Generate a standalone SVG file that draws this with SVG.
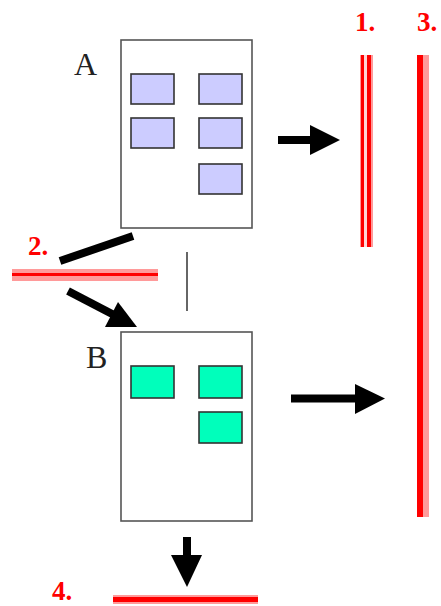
<svg xmlns="http://www.w3.org/2000/svg" width="441" height="606" viewBox="0 0 441 606">
<style>
.frame{fill:#fff;stroke:#555;stroke-width:1.6}
.pa{fill:#ccccff;stroke:#333;stroke-width:1.6}
.pb{fill:#00ffbb;stroke:#333;stroke-width:1.6}
.lbl{font-family:"Liberation Serif",serif;font-size:32px;fill:#222}
.num{font-family:"Liberation Serif",serif;font-size:27px;font-weight:bold;fill:#ff0000}
.halo{fill:#ff9a9a}
.red{fill:#ff0000}
.shaft{stroke:#000;stroke-width:8;fill:none}
.head{fill:#000}
</style>
<rect width="441" height="606" fill="#fff"/>
<g id="nodeA">
<rect class="frame" x="121" y="40" width="131" height="188"/>
<rect class="pa" x="131" y="74" width="43" height="30"/>
<rect class="pa" x="199" y="74" width="43" height="30"/>
<rect class="pa" x="131" y="118" width="43" height="30"/>
<rect class="pa" x="199" y="118" width="43" height="30"/>
<rect class="pa" x="199" y="164" width="43" height="30"/>
<text class="lbl" x="74" y="75">A</text>
</g>
<g id="nodeB">
<rect class="frame" x="121" y="332" width="131" height="189"/>
<rect class="pb" x="131" y="366" width="43" height="32"/>
<rect class="pb" x="199" y="366" width="43" height="32"/>
<rect class="pb" x="199" y="412" width="43" height="31"/>
<text class="lbl" x="86" y="368">B</text>
</g>
<g id="target1">
<rect class="halo" x="360" y="55" width="13" height="192"/>
<rect class="red" x="361" y="55" width="3" height="192"/>
<rect fill="#fff" opacity="0.6" x="364" y="55" width="3" height="192"/>
<rect class="red" x="367" y="55" width="4" height="192"/>
<text class="num" x="355" y="31">1.</text>
</g>
<g id="target2">
<rect class="halo" x="12" y="269" width="146" height="12"/>
<rect class="red" x="12" y="273" width="146" height="3"/>
<text class="num" x="28" y="255">2.</text>
</g>
<g id="target3">
<rect class="halo" x="417" y="55" width="12" height="462"/>
<rect class="red" x="417" y="55" width="6" height="462"/>
<text class="num" x="417" y="31">3.</text>
</g>
<g id="target4">
<rect class="halo" x="113" y="595" width="145" height="9"/>
<rect class="red" x="113" y="597" width="145" height="5"/>
<text class="num" x="52" y="600" font-size="26">4.</text>
</g>
<g id="connectors">
<line class="shaft" x1="278" y1="140" x2="312" y2="140"/>
<polygon class="head" points="310,125 340,140 310,155"/>
<line class="shaft" x1="291" y1="398.5" x2="357" y2="398.5"/>
<polygon class="head" points="355,384 385,398.5 355,414"/>
<line class="shaft" x1="187" y1="537" x2="187" y2="557"/>
<polygon class="head" points="171,555 202,555 187,587"/>
<line class="shaft" x1="133" y1="236" x2="60" y2="261" stroke-width="7"/>
<line class="shaft" x1="68" y1="291" x2="116" y2="316"/>
<polygon class="head" points="137,327 105,327 118,302"/>
<line x1="187" y1="252" x2="187" y2="311" stroke="#333" stroke-width="1.5"/>
</g>
</svg>
